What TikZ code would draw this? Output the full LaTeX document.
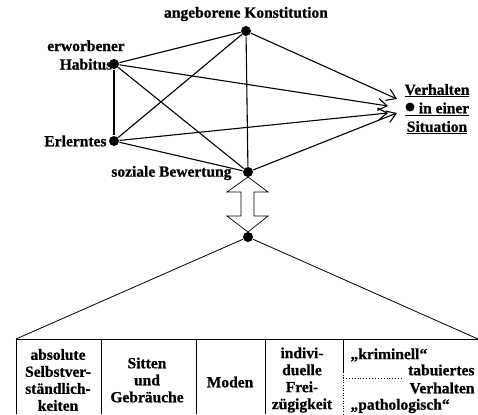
\documentclass[tikz,border=0pt]{standalone}
\usepackage{fontspec}
\setmainfont[BoldFeatures={FakeBold=0.8}]{Liberation Serif}
\usetikzlibrary{arrows.meta}

\begin{document}
\begin{tikzpicture}[x=1pt,y=-1pt,line width=1.1pt,
  dot/.style={circle,fill=black,inner sep=0pt,minimum size=10pt},
  lbl/.style={font=\bfseries\fontsize{15.5}{18.5}\selectfont,inner sep=0pt,align=center},
  cell/.style={font=\bfseries\fontsize{15.5}{17}\selectfont,inner sep=0pt,align=center},
  pfeil/.style={-{Straight Barb[length=9pt,width=12pt]}}]
\useasboundingbox (0,0) rectangle (478,414);
% Einflussfaktoren
\node[dot] (konst) at (246,31) {};
\node[dot] (habit) at (114,64) {};
\node[dot] (lern) at (114,141) {};
\node[dot] (bew) at (248,172) {};
\node[lbl] (konstL) at (246,14) {angeborene Konstitution};
\node[lbl] (habitL) at (86,55) {erworbener\\Habitus};
\node[lbl,anchor=east] (lernL) at (107,141) {Erlerntes};
\node[lbl,anchor=east] (bewL) at (232,173) {soziale Bewertung};
% Verhalten
\node[lbl] (verh) at (437,109) {\underline{Verhalten}\\\underline{\hspace*{14pt}in einer}\\\underline{Situation}};
\node[dot,minimum size=9pt] (vdot) at (410,107) {};
\coordinate (z1) at (397,99);
\coordinate (z2) at (388,106);
\coordinate (z3) at (388,113);
\coordinate (z4) at (397,113);
\draw (habit) -- (konst);
\draw (habit) -- (lern);
\draw (habit) -- (bew);
\draw (lern) -- (konst);
\draw (lern) -- (bew);
\draw (konst) -- (bew);
\draw[pfeil] (konst) -- (z1);
\draw[pfeil] (habit) -- (z2);
\draw[pfeil] (lern) -- (z3);
\draw[pfeil] (bew) -- (z4);
% Doppelpfeil
\draw[line width=0.7pt] (248,177) -- (268,192) -- (254,192) -- (254,216) -- (268,216)
  -- (248,232) -- (227,216) -- (241,216) -- (241,192) -- (227,192) -- cycle;
\node[dot] (unten) at (248,237) {};
% Tabelle
\coordinate (tl) at (16,339);
\coordinate (tr) at (478,339);
\draw[line width=0.8pt] (unten) -- (tl);
\draw[line width=0.8pt] (unten) -- (tr);
\draw[line width=0.8pt] (tl) -- (tr);
\draw[line width=0.8pt] (tl) -- (16,414);
\draw[line width=0.8pt] (101,339) -- (101,414);
\draw[line width=0.8pt] (196,339) -- (196,414);
\draw[line width=0.8pt] (265,339) -- (265,414);
\draw[line width=0.8pt] (343,339) -- (343,372);
\draw[line width=0.6pt,dotted] (343,372) -- (343,414);
\draw[line width=0.9pt,dotted] (343,378) -- (402,378);
\node[cell] (c1) at (58,380) {absolute\\Selbstver-\\ständlich-\\keiten};
\node[cell] (c2) at (147,380) {Sitten\\und\\Gebräuche};
\node[cell] (c3) at (230,382) {Moden};
\node[cell] (c4) at (302,380) {indivi-\\duelle\\Frei-\\zügigkeit};
\node[cell,anchor=west] (krim) at (350,355) {„kriminell“};
\node[cell,anchor=east] (tabu) at (475,370) {tabuiertes};
\node[cell,anchor=east] (tabuV) at (475,388) {Verhalten};
\node[cell,anchor=west] (patho) at (350,406) {„pathologisch“};
\end{tikzpicture}
\end{document}
